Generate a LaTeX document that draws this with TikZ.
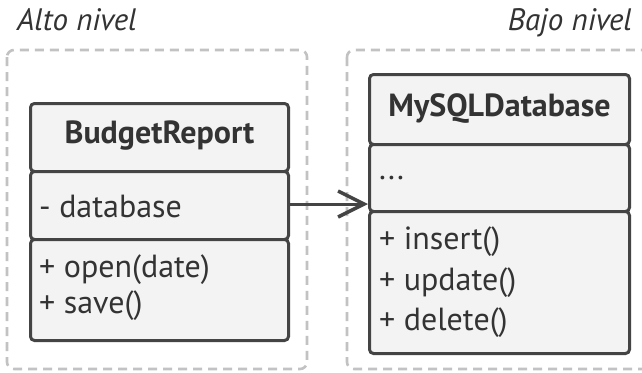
\documentclass[tikz,border=0pt]{standalone}
\usepackage{fontspec}
\setmainfont{PT Sans}
\usetikzlibrary{arrows.meta}
\definecolor{strokec}{HTML}{444444}
\definecolor{fillc}{HTML}{F3F3F3}
\definecolor{dashc}{HTML}{C2C2C2}
\definecolor{textc}{HTML}{333333}
\tikzset{
  comp/.style={draw=strokec, fill=fillc, line width=3pt, rounded corners=4pt, inner sep=0pt, anchor=north west},
  layer/.style={draw=dashc, line width=2.6pt, dash pattern=on 9pt off 6pt, rounded corners=7pt},
  txt/.style={text=textc, inner sep=0pt, anchor=west, font=\fontsize{32}{38}\selectfont},
  ttl/.style={text=textc, inner sep=0pt, font=\fontsize{32}{38}\selectfont\bfseries},
  lbl/.style={text=textc, inner sep=0pt, font=\fontsize{31}{37}\selectfont\itshape},
  conn/.style={draw=strokec, line width=3pt, -{Straight Barb[length=26pt,width=26pt,line width=3.5pt]}}
}
\begin{document}
\begin{tikzpicture}[x=1pt,y=-1pt]
\useasboundingbox (0,0) rectangle (642,372);
\fill[white] (0,0) rectangle (642,372);
% layers
\draw[layer] (7,50) rectangle (307,369);
\draw[layer] (347,50) rectangle (660,369);
\node[lbl, anchor=base west] (alto) at (17,30) {Alto nivel};
\node[lbl, anchor=base east] (bajo) at (632,30) {Bajo nivel};
% BudgetReport
\node[comp, minimum width=258pt, minimum height=68pt] (bttl) at (29,102) {};
\node[comp, minimum width=258pt, minimum height=68pt] (battr) at (29,170) {};
\node[comp, minimum width=258pt, minimum height=101pt] (bmeth) at (29,238) {};
\node[ttl] (btt) at ([yshift=2pt]bttl.center) {BudgetReport};
\node[txt] (bdb) at (39,206) {- database};
\node[txt] (bo) at (39,270) {+ open(date)};
\node[txt] (bs) at (39,306) {+ save()};
% MySQLDatabase
\node[comp, minimum width=260pt, minimum height=70pt] (mttl) at (368,73) {};
\node[comp, minimum width=260pt, minimum height=67pt] (mattr) at (368,143) {};
\node[comp, minimum width=260pt, minimum height=142pt] (mmeth) at (368,210) {};
\node[ttl] (mtt) at ([yshift=1pt]mttl.center) {MySQLDatabase};
\node[txt] (mdots) at (379,178) {...};
\node[txt] (mi) at (379,242) {+ insert()};
\node[txt] (mu) at (379,283) {+ update()};
\node[txt] (md) at (379,323) {+ delete()};
% connector
\draw[conn] (battr.east |- 0,204) -- (mattr.west |- 0,204);
\end{tikzpicture}
\end{document}
